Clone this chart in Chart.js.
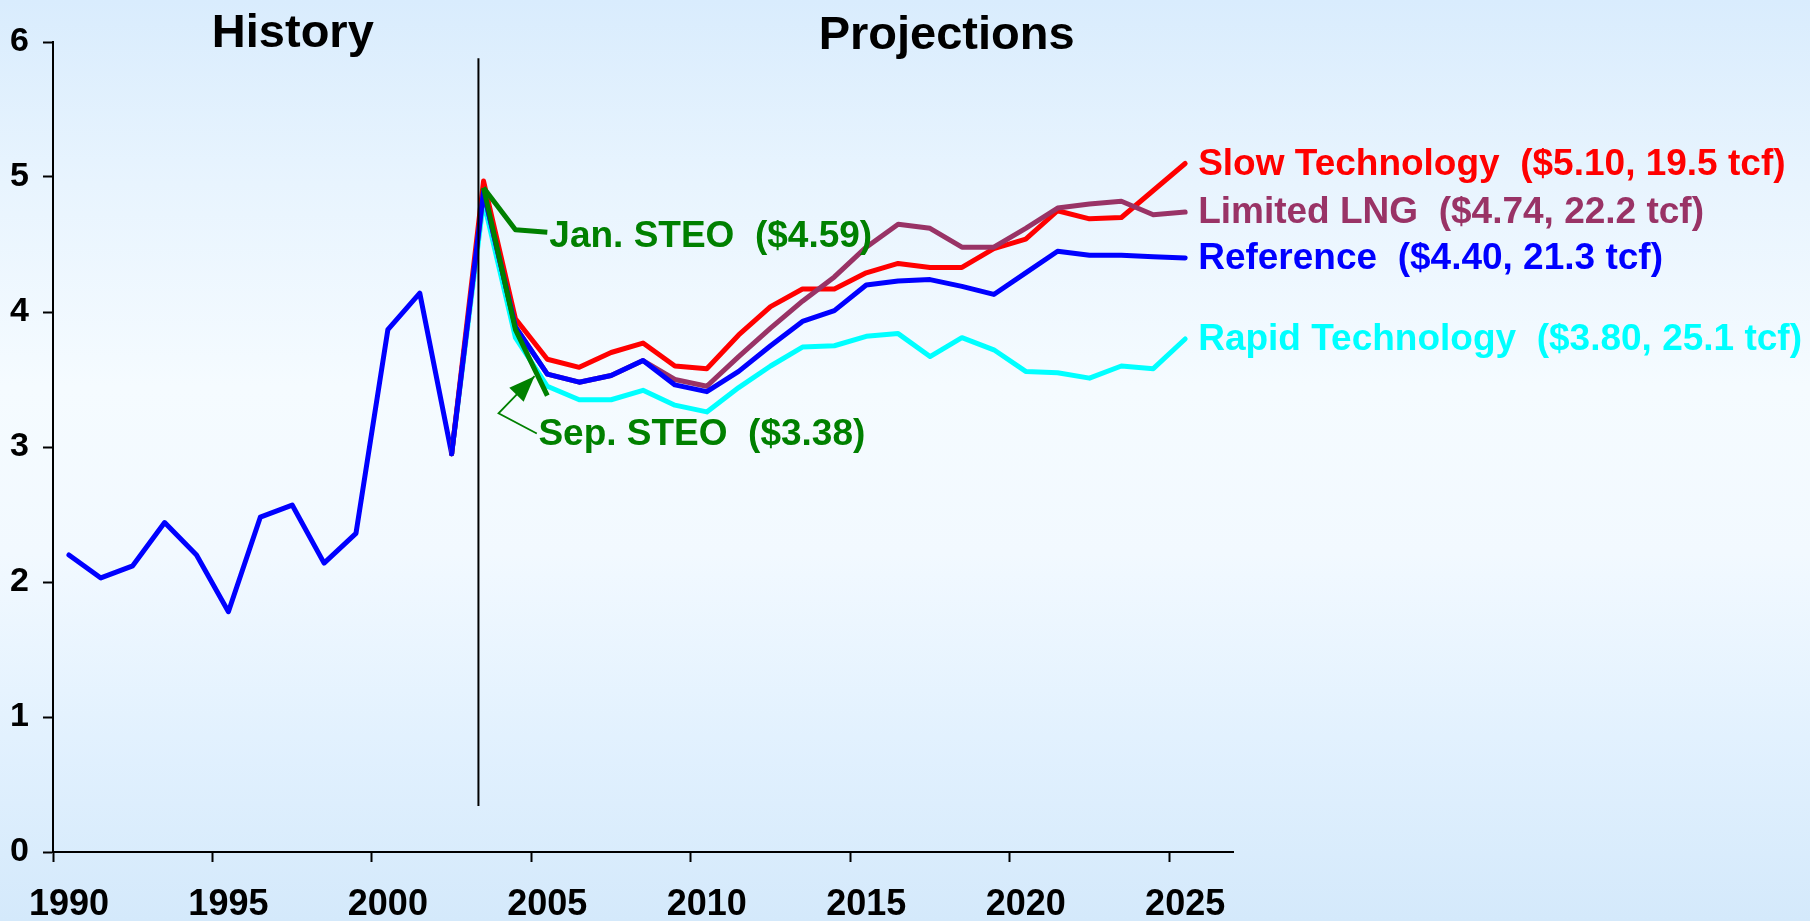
<!DOCTYPE html>
<html>
<head>
<meta charset="utf-8">
<script src="https://cdn.jsdelivr.net/npm/chart.js@4.4.1/dist/chart.umd.min.js"></script>
<style>
  html, body { margin: 0; padding: 0; width: 1810px; height: 921px; overflow: hidden; }
  body { background: linear-gradient(to bottom, #d9ecfd 0%, #e8f4fe 20%, #f5fbff 42%, #f2f9ff 60%, #e2f1fe 80%, #d4e9fb 100%); }
  #wrap { position: relative; width: 1810px; height: 921px; }
</style>
</head>
<body>
<div id="wrap"><canvas id="chart" width="1810" height="921"></canvas></div>
<script>
// ---------- data ----------
const yearLabels = ['1990','1991','1992','1993','1994','1995','1996','1997','1998','1999',
  '2000','2001','2002','2003','2004','2005','2006','2007','2008','2009',
  '2010','2011','2012','2013','2014','2015','2016','2017','2018','2019',
  '2020','2021','2022','2023','2024','2025','2026'];
const xTickYears = ['1990','1995','2000','2005','2010','2015','2020','2025'];
const yTickValues = [0, 1, 2, 3, 4, 5, 6];

const historyStart = 1990;
const historyPrices = [2.20, 2.03, 2.12, 2.44, 2.20, 1.78, 2.48, 2.57, 2.14, 2.36, 3.87, 4.14, 2.95];

const projectionStart = 2002;
const referencePrices = [2.95, 4.89, 3.89, 3.54, 3.48, 3.53, 3.64, 3.46, 3.41, 3.56, 3.75, 3.93,
  4.01, 4.20, 4.23, 4.24, 4.19, 4.13, 4.29, 4.45, 4.42, 4.42, 4.41, 4.40];
const slowTechPrices = [2.95, 4.97, 3.95, 3.65, 3.59, 3.70, 3.77, 3.60, 3.58, 3.83, 4.04, 4.17,
  4.17, 4.29, 4.36, 4.33, 4.33, 4.47, 4.54, 4.75, 4.69, 4.70, 4.90, 5.10];
const limitedLngPrices = [2.95, 4.89, 3.89, 3.54, 3.48, 3.53, 3.64, 3.50, 3.45, 3.67, 3.88, 4.08,
  4.26, 4.48, 4.65, 4.62, 4.48, 4.48, 4.62, 4.77, 4.80, 4.82, 4.72, 4.74];
const rapidTechPrices = [2.95, 4.82, 3.81, 3.45, 3.35, 3.35, 3.42, 3.31, 3.26, 3.44, 3.60, 3.74,
  3.75, 3.82, 3.84, 3.67, 3.81, 3.72, 3.56, 3.55, 3.51, 3.60, 3.58, 3.80];

const steoStart = 2003;
const janSteoPrices = [4.92, 4.61, 4.59];
const sepSteoPrices = [4.92, 3.87, 3.38];

const endLabels = [
  { series: 'Slow Technology',  text: 'Slow Technology  ($5.10, 19.5 tcf)', color: '#ff0000' },
  { series: 'Limited LNG',      text: 'Limited LNG  ($4.74, 22.2 tcf)',     color: '#993366' },
  { series: 'Reference',        text: 'Reference  ($4.40, 21.3 tcf)',       color: '#0000ff' },
  { series: 'Rapid Technology', text: 'Rapid Technology  ($3.80, 25.1 tcf)', color: '#00ffff' }
];
const janLabelText = 'Jan. STEO  ($4.59)';
const sepLabelText = 'Sep. STEO  ($3.38)';

// annotation anchors in data units (year, price)
const sepLabelAnchor = [2004.72, 3.09];
const sepArrowPath = [[2004.67, 3.10], [2003.47, 3.25], [2004.60, 3.525]];
const dividerLine = { year: 2002.84, from: 0.34, to: 5.88 };
const periodTitles = [
  { text: 'History', year: 1997.02, price: 5.965 },
  { text: 'Projections', year: 2017.52, price: 5.95 }
];

// ---------- helpers ----------
const FONT = "'Liberation Sans', Arial, Helvetica, sans-serif";
function toPoints(start, values) {
  return values.map((v, i) => ({ x: String(start + i), y: v }));
}
function lineDs(label, color, start, values) {
  return {
    label, data: toPoints(start, values),
    borderColor: color, backgroundColor: color,
    borderWidth: 5, pointRadius: 0, pointHoverRadius: 0,
    tension: 0, fill: false,
    borderCapStyle: 'round', borderJoinStyle: 'round'
  };
}

const datasets = [
  lineDs('Jan. STEO', '#008000', steoStart, janSteoPrices),
  lineDs('Sep. STEO', '#008000', steoStart, sepSteoPrices),
  lineDs('Reference', '#0000ff', projectionStart, referencePrices),
  lineDs('Limited LNG', '#993366', projectionStart, limitedLngPrices),
  lineDs('Slow Technology', '#ff0000', projectionStart, slowTechPrices),
  lineDs('Rapid Technology', '#00ffff', projectionStart, rapidTechPrices),
  lineDs('History', '#0000ff', historyStart, historyPrices)
];
datasets[0].borderCapStyle = 'butt';
datasets[1].borderCapStyle = 'butt';

// ---------- annotation plugin ----------
const annotationPlugin = {
  id: 'annotations',
  afterDatasetsDraw(chart) {
    const { ctx, scales: { x, y } } = chart;
    const X = yr => x.getPixelForValue(yr - 1990);
    const Y = v => y.getPixelForValue(v);
    ctx.save();

    // divider
    ctx.strokeStyle = '#000';
    ctx.lineWidth = 2;
    ctx.beginPath();
    ctx.moveTo(X(dividerLine.year), Y(dividerLine.to));
    ctx.lineTo(X(dividerLine.year), Y(dividerLine.from));
    ctx.stroke();

    // titles
    ctx.fillStyle = '#000';
    ctx.font = `bold 47px ${FONT}`;
    ctx.textAlign = 'center';
    ctx.textBaseline = 'alphabetic';
    periodTitles.forEach(t => ctx.fillText(t.text, X(t.year), Y(t.price)));

    // series end labels
    ctx.font = `bold 37px ${FONT}`;
    ctx.textAlign = 'left';
    ctx.textBaseline = 'middle';
    endLabels.forEach(l => {
      const idx = chart.data.datasets.findIndex(d => d.label === l.series);
      const meta = chart.getDatasetMeta(idx);
      const pt = meta.data[meta.data.length - 1];
      ctx.fillStyle = l.color;
      ctx.fillText(l.text, pt.x + 13, pt.y + 1);
    });

    // Jan STEO label at end of its line
    const janMeta = chart.getDatasetMeta(0);
    const janEnd = janMeta.data[janMeta.data.length - 1];
    ctx.fillStyle = '#008000';
    ctx.fillText(janLabelText, janEnd.x + 2, janEnd.y + 4);

    // Sep STEO label + arrow
    ctx.fillText(sepLabelText, X(sepLabelAnchor[0]), Y(sepLabelAnchor[1]));
    const pts = sepArrowPath.map(p => [X(p[0]), Y(p[1])]);
    ctx.strokeStyle = '#008000';
    ctx.lineWidth = 1.8;
    ctx.beginPath();
    ctx.moveTo(pts[0][0], pts[0][1]);
    ctx.lineTo(pts[1][0], pts[1][1]);
    ctx.lineTo(pts[2][0], pts[2][1]);
    ctx.stroke();
    const [ex, ey] = pts[1], [tx, ty] = pts[2];
    const len = Math.hypot(tx - ex, ty - ey);
    const ux = (tx - ex) / len, uy = (ty - ey) / len;
    const hl = 26, hw = 10;
    const bx = tx - ux * hl, by = ty - uy * hl;
    ctx.fillStyle = '#008000';
    ctx.beginPath();
    ctx.moveTo(tx, ty);
    ctx.lineTo(bx - uy * hw, by + ux * hw);
    ctx.lineTo(bx + uy * hw, by - ux * hw);
    ctx.closePath();
    ctx.fill();

    ctx.restore();
  }
};

// ---------- chart ----------
new Chart(document.getElementById('chart'), {
  type: 'line',
  data: { labels: yearLabels, datasets },
  options: {
    responsive: false,
    animation: false,
    devicePixelRatio: 1,
    layout: { padding: { left: 0, top: 42, right: 577, bottom: 0 } },
    plugins: { legend: { display: false }, tooltip: { enabled: false }, title: { display: false } },
    scales: {
      x: {
        type: 'category',
        offset: true,
        afterFit: s => { s.height = 69; },
        grid: {
          offset: true,
          drawOnChartArea: false,
          drawTicks: true,
          tickLength: 10,
          tickWidth: 2,
          tickColor: c => (yearLabels[c.index] !== undefined && xTickYears.includes(yearLabels[c.index])) ? '#000' : 'rgba(0,0,0,0)'
        },
        border: { display: true, color: '#000', width: 2 },
        ticks: {
          autoSkip: false,
          maxRotation: 0,
          minRotation: 0,
          padding: 21,
          color: '#000',
          font: { family: FONT, size: 36, weight: 'bold' },
          callback: (v, i) => xTickYears.includes(yearLabels[i]) ? yearLabels[i] : ''
        }
      },
      y: {
        min: 0,
        max: 6,
        afterFit: s => { s.width = 53; },
        afterBuildTicks: s => { s.ticks = yTickValues.map(v => ({ value: v })); },
        grid: { drawOnChartArea: false, drawTicks: true, tickLength: 10, tickWidth: 2, tickColor: '#000' },
        border: { display: true, color: '#000', width: 2 },
        ticks: {
          padding: 14,
          color: '#000',
          font: { family: FONT, size: 34, weight: 'bold' }
        }
      }
    }
  },
  plugins: [annotationPlugin]
});
</script>
</body>
</html>
